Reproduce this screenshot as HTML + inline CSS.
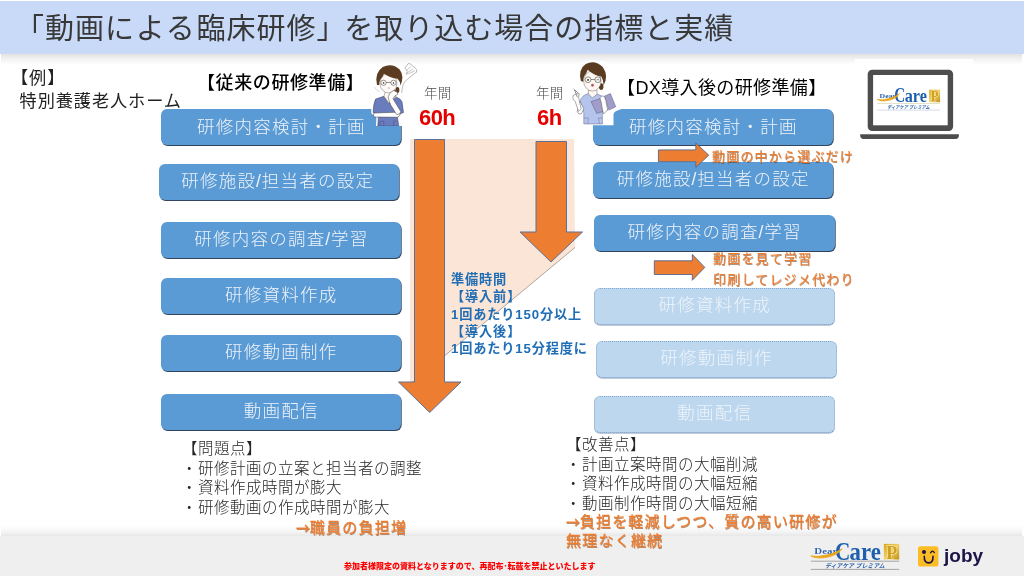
<!DOCTYPE html>
<html lang="ja">
<head>
<meta charset="utf-8">
<title>「動画による臨床研修」を取り込む場合の指標と実績</title>
<style>
html,body{margin:0;padding:0;}
body{width:1024px;height:576px;overflow:hidden;background:#fff;position:relative;
 font-family:"Liberation Sans","Noto Sans CJK JP",sans-serif;color:#222;}
.abs{position:absolute;white-space:nowrap;}
div.abs,.bx,svg.abs{will-change:transform;}
#hdr{left:0;top:1px;width:1024px;height:53px;background:#c9daf8;}
#title{left:14.9px;top:7.5px;font-size:29px;letter-spacing:1.0px;line-height:42px;color:#383838;font-weight:400;}
.bx{position:absolute;box-sizing:border-box;height:35.8px;border-radius:6px;background:#5b9bd5;
 color:#eef3f9;font-size:17.5px;font-weight:300;text-align:center;line-height:35.4px;letter-spacing:1.25px;text-indent:.4px;
 box-shadow:.7px .9px .3px rgba(15,35,65,.85);}
.bx.fd{background:#bdd7ee;color:#edf4fb;box-shadow:0 .8px 0 rgba(70,100,140,.45);border:1px dotted #86a9d2;border-bottom-color:#6f92bd;height:37px;line-height:34.6px;}
.ar{font-family:"Noto Sans CJK JP",sans-serif;font-size:14px;font-weight:500;letter-spacing:0;margin-right:-.3px;}
.d{margin-left:-.5px;margin-right:.5px;}
.sl{margin:0 -.3px 0 -.3px;}
.t16{font-size:15.5px;letter-spacing:.5px;line-height:19.5px;color:#262626;font-weight:300;}
.hd{font-size:18px;letter-spacing:.6px;font-weight:400;color:#000;line-height:24px;}
.or{color:#ed7d31;font-weight:400;-webkit-text-stroke:.28px #ed7d31;text-shadow:0.5px 0.5px 0.5px rgba(90,45,5,.5);}
.nk{font-size:13.5px;color:#4c4c4c;font-weight:300;line-height:16px;letter-spacing:.2px}
.hr{font-size:22px;font-weight:700;color:#e60000;line-height:24px;letter-spacing:-.6px;}
#foot{left:0;top:535.5px;width:1024px;height:40.5px;background:#efefef;}
#fsh{left:1px;top:523.5px;width:1021px;height:12px;background:linear-gradient(to bottom,rgba(0,0,0,0) 0%,rgba(0,0,0,.012) 30%,rgba(0,0,0,.045) 65%,rgba(0,0,0,.095) 100%);}
#hsh{left:1px;top:54px;width:1021px;height:11px;background:linear-gradient(to bottom,rgba(0,0,0,.11) 0%,rgba(0,0,0,.06) 40%,rgba(0,0,0,.02) 75%,rgba(0,0,0,0) 100%);}
</style>
</head>
<body>
<div id="hsh" class="abs"></div><div id="hdr" class="abs"></div>
<div id="fsh" class="abs"></div><div id="foot" class="abs"></div>
<div id="title" class="abs">「動画<span style="letter-spacing:1.8px">による</span>臨床研修<span style="margin-right:-2.4px">」</span>を取り込む場合の指標と実績</div>

<div class="abs" style="left:10.6px;top:67.2px;font-size:17.2px;letter-spacing:.9px;line-height:22.9px;font-weight:400;color:#222">【例】<br><span style="margin-left:8.6px">特別養護老人ホーム</span></div>

<div class="abs hd" style="left:197.3px;top:70.8px;font-weight:500">【従来の研修準備】</div>
<div class="abs hd" style="left:617.2px;top:76px;letter-spacing:.38px">【DX導入後の研修準備】</div>

<!-- centre shapes -->
<svg class="abs" style="left:0;top:0" width="1024" height="576" viewBox="0 0 1024 576">
 <polygon points="410,139 574,139 575,247.5 410,384.5" fill="#fbe5d6"/>
 <line x1="575" y1="247.5" x2="410" y2="384.5" stroke="#5a5048" stroke-width=".6" opacity=".8"/>
 <polygon points="414.5,139.5 444.5,139.5 444.5,382 461,382 429.7,412.5 398.5,382 414.5,382" fill="#ed7d31" stroke="#5b7199" stroke-width="1"/>
 <polygon points="536,141.5 566.5,141.5 566.5,232 582.5,232 551,262 520,232 536,232" fill="#ed7d31" stroke="#5b7199" stroke-width="1"/>
</svg>

<!-- left boxes -->
<div class="bx" style="left:161.2px;top:109.4px;width:240.3px;line-height:37.5px">研修内容検討・計画</div>
<div class="bx" style="left:158.5px;top:164.3px;width:240.3px"><span style="margin-left:-3px">研修施設<span class="sl">/</span>担当者の設定</span></div>
<div class="bx" style="left:161.2px;top:221.6px;width:240.3px">研修内容の調査<span class="sl">/</span>学習</div>
<div class="bx" style="left:161.2px;top:277.5px;width:240.3px">研修資料作成</div>
<div class="bx" style="left:161.2px;top:335.3px;width:240.3px">研修動画制作</div>
<div class="bx" style="left:161.2px;top:394.3px;width:240.3px">動画配信</div>

<!-- right boxes -->
<div class="bx" style="left:593.3px;top:109.4px;width:240.2px;line-height:37.5px">研修内容検討・計画</div>
<div class="bx" style="left:593.3px;top:162px;width:240.2px;height:35.5px;line-height:34.5px">研修施設<span class="sl">/</span>担当者の設定</div>
<div class="bx" style="left:594.4px;top:215px;width:240.9px;line-height:34px">研修内容の調査<span class="sl">/</span>学習</div>
<div class="bx fd" style="left:594.4px;top:287.9px;width:240.9px;line-height:33.6px">研修資料作成</div>
<div class="bx fd" style="left:596.2px;top:340.6px;width:240.6px;line-height:32.6px">研修動画制作</div>
<div class="bx fd" style="left:594.4px;top:395.5px;width:240.9px;line-height:32px">動画配信</div>

<svg class="abs" style="left:0;top:0" width="1024" height="576" viewBox="0 0 1024 576">
 <polygon points="658.4,149.9 695.8,149.9 695.8,143 708.8,155.2 695.8,167.3 695.8,161.7 658.4,161.7" fill="#ed7d31" stroke="#52688f" stroke-width=".9"/>
 <polygon points="654.3,260.8 692.3,260.8 692.3,254.4 704.8,267.4 692.3,280.3 692.3,274.5 654.3,274.5" fill="#ed7d31" stroke="#52688f" stroke-width=".9"/>
</svg>


<!-- nurse 1 (troubled) : coords are 8x zoom of page area starting 364,58 -->
<svg class="abs" style="left:364px;top:58px" width="60" height="68" viewBox="0 0 480 544">
 <g fill="#fff" stroke="#fff" stroke-width="30" stroke-linejoin="round">
  <path d="M93,328 L160,306 L254,311 Q295,325 304,350 L316,436 L300,470 L300,545 L110,545 L115,478 L100,450 L73,436 Q75,360 93,328 Z"/>
  <ellipse cx="197" cy="150" rx="100" ry="95"/>
  <ellipse cx="195" cy="205" rx="68" ry="75"/>
 </g>
 <path d="M93,328 L160,306 L199,361 L254,311 Q295,325 304,350 L316,436 L290,446 L268,478 L278,545 L110,545 L115,478 L100,450 L73,436 Q75,360 93,328 Z" fill="#6a7cbc" stroke="#33355a" stroke-width="4" stroke-linejoin="round"/>
 <path d="M126,545 L126,506 L160,506 L157,545 M237,545 L237,506 L256,506" fill="none" stroke="#3f4576" stroke-width="3"/>
 <path d="M172,265 L160,306 L199,361 L254,311 L238,265Z" fill="#fffaf5" stroke="#444" stroke-width="3"/>
 <ellipse cx="268" cy="255" rx="15" ry="24" fill="#5b3c20"/>
 <ellipse cx="195" cy="203" rx="68" ry="76" fill="#fffaf5" stroke="#444" stroke-width="3"/>
 <path d="M104,215 Q80,120 150,72 Q225,35 285,92 Q325,145 292,220 Q290,185 268,165 Q215,160 160,125 Q150,150 132,170 Q122,185 122,215 Z" fill="#5b3c20"/>
 <g fill="none" stroke="#333" stroke-width="4"><circle cx="156" cy="198" r="21"/><circle cx="236" cy="198" r="21"/><path d="M177,196 L215,196"/></g>
 <circle cx="157" cy="199" r="6" fill="#222"/><circle cx="236" cy="199" r="6" fill="#222"/>
 <path d="M190,240 L208,240" stroke="#a55" stroke-width="4"/>
 <path d="M82,440 Q68,456 82,472 L268,474 Q294,462 288,438 L250,434 Z" fill="#fff" stroke="#3a3a3a" stroke-width="4" stroke-linejoin="round"/>
 <path d="M193,311 Q200,280 232,262 L262,256 L270,290 Q240,300 232,326 L294,428 Q292,450 262,454 L214,376 Q198,342 193,311Z" fill="#fff" stroke="#3a3a3a" stroke-width="4" stroke-linejoin="round"/>
 <path d="M238,262 L262,250 L268,278Z" fill="#6a4a3a"/>
 <g fill="none" stroke="#666" stroke-width="4" stroke-linejoin="round" stroke-linecap="round">
  <path d="M328,80 L352,46 Q364,40 376,52 L418,88 Q426,100 420,112" stroke-width="3.5"/>
  <path d="M338,100 L374,70 M346,118 L388,90 M360,124 L404,104" stroke-width="3"/>
  <path d="M330,84 L346,106 L336,130 L352,124" stroke-width="3"/>
  <path d="M420,112 Q380,140 330,186 Q304,216 302,276" stroke-width="3.5"/>
  <path d="M85,235 Q100,262 125,272" stroke="#999" stroke-width="3"/>
 </g>
</svg>

<!-- nurse 2 (cheerful) : coords are 7.58x zoom of page area starting 564,56 -->
<svg class="abs" style="left:564px;top:56px" width="64" height="76" viewBox="0 0 485 576">
 <path d="M60,525 L20,450 L20,250 L110,60 L200,30 L300,40 L390,130 L390,300 L440,330 L440,400 L400,415 Q375,425 375,450 L375,525 Z" fill="#fff"/>
 <ellipse cx="282" cy="232" rx="17" ry="26" fill="#5b3c20"/>
 <path d="M150,515 L150,430 L120,345 Q135,295 185,285 L215,315 L250,288 Q290,295 305,330 L290,440 L292,515Z" fill="#b5c4ec" stroke="#5a5f85" stroke-width="3.5" stroke-linejoin="round"/>
 <path d="M185,255 L185,288 L215,318 L250,290 L250,255Z" fill="#fff8f2" stroke="#444" stroke-width="3"/>
 <ellipse cx="215" cy="190" rx="66" ry="76" fill="#fff8f2" stroke="#444" stroke-width="3"/>
 <path d="M128,190 Q105,100 165,60 Q235,25 295,85 Q340,150 300,222 Q300,180 282,155 Q225,150 180,105 Q170,135 152,155 Q146,170 146,195 Z" fill="#5b3c20"/>
 <g fill="none" stroke="#333" stroke-width="4"><circle cx="182" cy="180" r="22"/><circle cx="256" cy="180" r="22"/><path d="M204,178 L234,178"/></g>
 <circle cx="182" cy="181" r="7" fill="#222"/><path d="M246,182 Q256,174 267,182" stroke="#222" stroke-width="4" fill="none"/>
 <ellipse cx="216" cy="222" rx="10" ry="11" fill="#b4556a"/>
 <path d="M205,345 L290,318 L330,410 L248,436Z" fill="#a19dca" stroke="#54507a" stroke-width="3.5" stroke-linejoin="round"/>
 <path d="M305,305 L352,285 L392,385 L340,410Z" fill="#a19dca" stroke="#54507a" stroke-width="3.5" stroke-linejoin="round"/>
 <path d="M272,318 Q285,295 305,305 L318,340 L330,410 L300,440 L290,400 Q285,350 272,318Z" fill="#fff" stroke="#444" stroke-width="3.5" stroke-linejoin="round"/>
 <path d="M122,345 L100,420 Q105,445 130,440 L150,400Z" fill="#fff" stroke="#444" stroke-width="3.5" stroke-linejoin="round"/>
 <path d="M68,300 Q60,330 85,345 L110,420 L130,400 L112,320 Q118,290 100,285Z" fill="#fff" stroke="#444" stroke-width="3.5" stroke-linejoin="round"/>
 <path d="M75,252 L118,290 M82,262 L100,310" stroke="#555" stroke-width="5" stroke-linecap="round"/>
 <path d="M150,470 L185,470 L180,515 M258,470 L290,470 M262,470 L268,515" fill="none" stroke="#5a5f85" stroke-width="3"/>
</svg>
<div class="abs or" style="left:712px;top:147.8px;font-size:13px;line-height:18px;letter-spacing:1.2px;-webkit-text-stroke-width:.15px">動画の中から選ぶだけ</div>
<div class="abs or" style="left:713.3px;top:249.3px;font-size:13px;line-height:20.7px;letter-spacing:1.2px;-webkit-text-stroke-width:.15px">動画を見て学習<br>印刷してレジメ代わり</div>

<div class="abs nk" style="left:423.5px;top:86px">年間</div>
<div class="abs hr" style="left:419.2px;top:106px">60h</div>
<div class="abs nk" style="left:535.7px;top:86px">年間</div>
<div class="abs hr" style="left:536.6px;top:106px">6h</div>

<div class="abs" style="left:451.3px;top:270.7px;font-size:13.2px;line-height:17.3px;font-weight:700;letter-spacing:.85px;color:#1f6db5">準備時間<br>【導入前】<br>1回あたり150分以上<br>【導入後】<br>1回あたり15分程度に</div>

<div class="abs t16" style="left:182px;top:439px">【問題点】<br><span class="d">・</span>研修計画の立案と担当者の調整<br><span class="d">・</span>資料作成時間が膨大<br><span class="d">・</span>研修動画の作成時間が膨大</div>
<div class="abs or" style="left:295.5px;top:517px;font-size:15px;line-height:20px;letter-spacing:1.25px"><span class="ar">→</span>職員の負担増</div>

<div class="abs t16" style="left:566px;top:434.5px">【改善点】<br><span class="d">・</span>計画立案時間の大幅削減<br><span class="d">・</span>資料作成時間の大幅短縮<br><span class="d">・</span>動画制作時間の大幅短縮</div>

<div class="abs or" style="left:566px;top:512px;font-size:15px;line-height:19.1px;letter-spacing:1.22px"><span class="ar">→</span>負担を軽減しつつ、質の高い研修が<br>無理なく継続</div>
<div class="abs" style="left:344px;top:561.6px;font-size:8px;line-height:10px;font-weight:900;color:#f00">参加者様限定の資料となりますので、再配布･転載を禁止といたします</div>

<!-- laptop -->
<div class="abs" style="left:855.3px;top:58.7px;width:118.3px;height:86px;background:#fff"></div>
<svg class="abs" style="left:850px;top:55px" width="130" height="90" viewBox="0 0 130 90">
 <rect x="17.7" y="14.8" width="85.4" height="61.3" rx="4.5" fill="#4d4d4d"/>
 <rect x="23.1" y="20" width="74.6" height="50.3" fill="#fff"/>
 <path d="M10.2,79.2 H108.9 V80.5 Q108.9,83.9 105.5,83.9 H13.6 Q10.2,83.9 10.2,80.5 Z" fill="#4d4d4d"/>
</svg>
<!-- DearCare logo in laptop -->
<svg class="abs" style="left:873px;top:85.1px" width="71.2" height="28.8" viewBox="0 0 100 36" preserveAspectRatio="none">
  <defs><linearGradient id="gd1" x1="0" y1="0" x2="1" y2="1"><stop offset="0" stop-color="#d9a514"/><stop offset=".5" stop-color="#efd068"/><stop offset="1" stop-color="#c08f12"/></linearGradient></defs>
  <rect x="78.9" y="5.9" width="15.3" height="15.6" fill="url(#gd1)"/>
  <line x1="5.9" y1="23.2" x2="94.2" y2="23.2" stroke="#d9cfae" stroke-width=".9"/>
  <line x1="5.9" y1="31.4" x2="94.2" y2="31.4" stroke="#c5cbe0" stroke-width=".9"/>
  <text x="9.3" y="16.1" font-family="'Liberation Serif',serif" font-weight="700" font-size="8.6" textLength="23" lengthAdjust="spacingAndGlyphs" fill="#2b62ad" stroke="#fff" stroke-width=".7" paint-order="stroke">Dear</text>
  <text x="30" y="21.6" font-family="'Liberation Serif',serif" font-weight="700" font-size="25.3" textLength="15.3" lengthAdjust="spacingAndGlyphs" fill="#1d5fae">C</text>
  <text x="44.6" y="21.6" font-family="'Liberation Serif',serif" font-weight="700" font-size="24.4" textLength="31.2" lengthAdjust="spacingAndGlyphs" fill="#1d5fae">are</text>
  <path d="M37.2,10.8 Q33.5,16.2 24,18.8 Q12,21.4 5.9,18 Q12.5,19.3 23,16.8 Q32,14.4 37.2,10.8Z" fill="#e9a61c" stroke="#e9a61c" stroke-width=".9" stroke-linejoin="round"/>
  <text x="81.2" y="20.6" font-family="'Liberation Serif',serif" font-weight="700" font-size="18" textLength="11" lengthAdjust="spacingAndGlyphs" fill="#cf9f20" stroke="#fff8dc" stroke-width=".8" paint-order="stroke">P</text>
  <text x="20" y="29.7" font-family="'Liberation Sans','Noto Sans CJK JP',sans-serif" font-style="italic" font-weight="700" font-size="6.1" textLength="59.6" lengthAdjust="spacingAndGlyphs" fill="#2b62ad">ディアケア プレミアム</text>
</svg>
<!-- footer logos -->
<svg class="abs" style="left:805px;top:538px" width="100" height="36" viewBox="0 0 100 36">
  <defs><linearGradient id="gd2" x1="0" y1="0" x2="1" y2="1"><stop offset="0" stop-color="#d9a514"/><stop offset=".5" stop-color="#efd068"/><stop offset="1" stop-color="#c08f12"/></linearGradient></defs>
  <rect x="78.9" y="5.9" width="15.3" height="15.6" fill="url(#gd2)"/>
  <line x1="5.9" y1="23.2" x2="94.2" y2="23.2" stroke="#9c9c9c" stroke-width=".9"/>
  <line x1="5.9" y1="31.4" x2="94.2" y2="31.4" stroke="#9c9c9c" stroke-width=".9"/>
  <text x="9.3" y="16.1" font-family="'Liberation Serif',serif" font-weight="700" font-size="8.6" textLength="23" lengthAdjust="spacingAndGlyphs" fill="#2b62ad" stroke="#fff" stroke-width=".7" paint-order="stroke">Dear</text>
  <text x="30" y="21.6" font-family="'Liberation Serif',serif" font-weight="700" font-size="25.3" textLength="15.3" lengthAdjust="spacingAndGlyphs" fill="#1d5fae">C</text>
  <text x="44.6" y="21.6" font-family="'Liberation Serif',serif" font-weight="700" font-size="24.4" textLength="31.2" lengthAdjust="spacingAndGlyphs" fill="#1d5fae">are</text>
  <path d="M37.2,10.8 Q33.5,16.2 24,18.8 Q12,21.4 5.9,18 Q12.5,19.3 23,16.8 Q32,14.4 37.2,10.8Z" fill="#e9a61c" stroke="#e9a61c" stroke-width=".9" stroke-linejoin="round"/>
  <text x="81.2" y="20.6" font-family="'Liberation Serif',serif" font-weight="700" font-size="18" textLength="11" lengthAdjust="spacingAndGlyphs" fill="#cf9f20" stroke="#fff8dc" stroke-width=".8" paint-order="stroke">P</text>
  <text x="20" y="29.7" font-family="'Liberation Sans','Noto Sans CJK JP',sans-serif" font-style="italic" font-weight="700" font-size="6.1" textLength="59.6" lengthAdjust="spacingAndGlyphs" fill="#2b62ad">ディアケア プレミアム</text>
</svg>
<svg class="abs" style="left:918px;top:546px" width="21" height="21" viewBox="0 0 21 21">
 <rect x="0" y="0.2" width="20.4" height="20.4" rx="2.6" fill="#fbbd23"/>
 <circle cx="6" cy="6" r="2.05" fill="#1c1447"/>
 <path d="M12.5,6.8 Q14.5,3.4 16.3,6.6" fill="none" stroke="#1c1447" stroke-width="1.3" stroke-linecap="round"/>
 <path d="M6.3,10.4 Q6.1,16.9 10.7,16.9 Q15.2,16.9 15,10.4" fill="none" stroke="#1c1447" stroke-width="1.6" stroke-linecap="round"/>
</svg>
<div class="abs" style="left:944px;top:544.3px;font-size:19px;line-height:24px;font-weight:700;color:#1c1447;letter-spacing:0px">joby</div>
</body>
</html>
